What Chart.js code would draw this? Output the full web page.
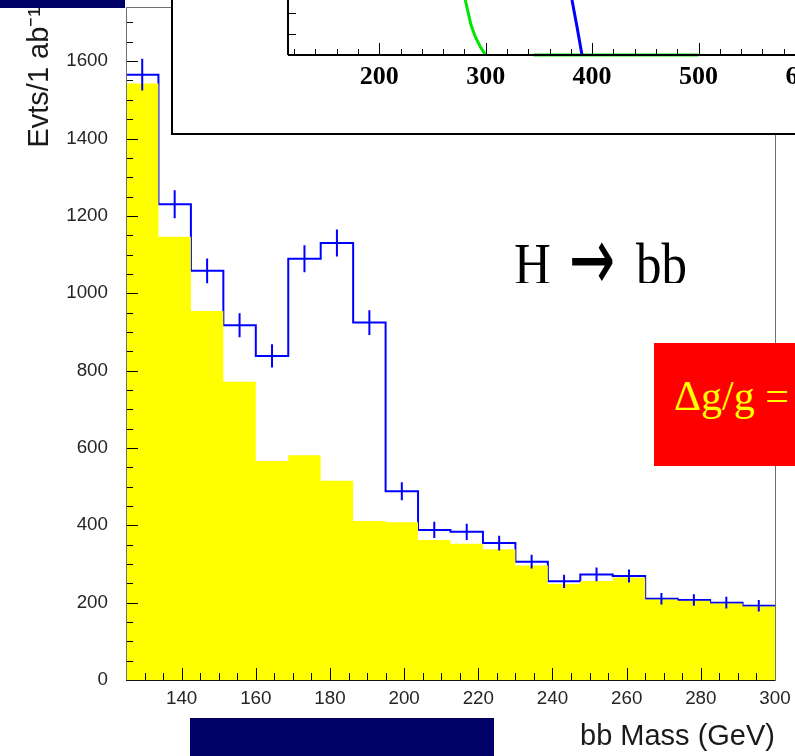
<!DOCTYPE html>
<html>
<head>
<meta charset="utf-8">
<script src="https://cdn.jsdelivr.net/npm/chart.js@4"></script>
<style>
  html, body { margin: 0; padding: 0; background: #fff; }
  body { position: relative; width: 795px; height: 756px; overflow: hidden; }
  canvas { position: absolute; }
  #main { left: 0; top: 0; }
  .navy { position: absolute; background: #000066; }
  #insetFrame { position: absolute; left: 171px; top: -20px; width: 700px; height: 155px;
    box-sizing: border-box; border: 2px solid #000; background: #fff; }
  #inset { left: 173px; top: 0; }
  #decay { position: absolute; left: 505px; top: 236px; width: 200px; height: 47px; overflow: hidden; }
  #decay span { position: absolute; top: 0; line-height: 51px; font-family: 'Liberation Serif', serif;
    font-size: 51px; color: #000; transform: scaleY(1.15); transform-origin: 0 0; white-space: nowrap; }
  #decay span.arrow { font-family: 'DejaVu Sans', sans-serif; font-size: 50px; top: -1px;
    transform: scale(1.1, 1.8); transform-origin: 50% 50%; }
  #coupling { position: absolute; left: 654px; top: 343px; width: 141px; height: 123px; background: #ff0000; overflow: hidden; }
  #coupling span { position: absolute; left: 20px; top: 32px; line-height: 42px; font-family: 'Liberation Serif', serif;
    font-size: 42px; color: #ffff00; white-space: nowrap; }
</style>
</head>
<body>
<canvas id="main" width="795" height="756"></canvas>
<div class="navy" style="left:0;top:0;width:125px;height:8px"></div>
<div id="insetFrame"></div>
<canvas id="inset" width="700" height="131"></canvas>
<div id="decay"><span style="left:9px">H</span><span class="arrow" style="left:66px">→</span><span style="left:131px">bb</span></div>
<div id="coupling"><span>Δg/g =</span></div>
<div class="navy" style="left:190px;top:718px;width:304px;height:40px"></div>

<script>
// bb mass bins (GeV)
const binEdges = [125, 133.75, 142.5, 151.25, 160, 168.75, 177.5, 186.25, 195, 203.75, 212.5,
  221.25, 230, 238.75, 247.5, 256.25, 265, 273.75, 282.5, 291.25, 300];
// background only (yellow) and signal + background (blue), events per bin
const background = [1542, 1146, 954, 771, 566, 581, 515, 411, 408, 362, 352, 338, 296, 248, 256, 265, 208, 205, 198, 190];
const signalPlusBg = [1565, 1230, 1058, 917, 838, 1089, 1130, 924, 488, 388, 383, 354, 306, 255, 273, 269, 210, 207, 200, 192];
const errors = [41, 36, 32, 31, 30, 35, 35, 32, 23, 21, 21, 19, 18, 17, 18, 17, 15, 15, 15, 15];
const xTickLabels = [140, 160, 180, 200, 220, 240, 260, 280, 300];
const yTickLabels = [0, 200, 400, 600, 800, 1000, 1200, 1400, 1600];

// inset plot (mostly hidden behind the frame edge)
const insetTickLabels = [200, 300, 400, 500, 600];
const insetGreenX = [280.8, 283.0, 286.2, 290.2, 294.9, 299.9];
const insetGreenY = [5.2, 4.25, 2.84, 1.73, 0.78, 0];
const insetBlueX = [381.1, 385.8, 390.5];
const insetBlueY = [5.2, 2.67, 0];
const insetFlatX = [345, 500];
const insetFlatY = [0, 0];

function stepPoints(values) {
  const pts = [];
  values.forEach((v, i) => {
    pts.push({x: binEdges[i], y: v}, {x: binEdges[i + 1], y: v});
  });
  return pts;
}

function errorPoints(values, errs) {
  const pts = [];
  values.forEach((v, i) => {
    const c = (binEdges[i] + binEdges[i + 1]) / 2;
    pts.push({x: c, y: v - errs[i]}, {x: c, y: v + errs[i]}, {x: c, y: null});
  });
  return pts;
}

const zip = (xs, ys) => xs.map((x, i) => ({x: x, y: ys[i]}));
const plain = v => `${v}`;

// ROOT style tick marks pointing into the frame
const tickMarks = {
  id: 'tickMarks',
  afterDatasetsDraw(chart, args, o) {
    const {ctx, chartArea: a, scales: {x, y}} = chart;
    const crisp = v => Math.round(v) + 0.5;
    ctx.save();
    ctx.lineWidth = 1;
    ctx.strokeStyle = '#000';
    ctx.beginPath();
    for (let v = Math.ceil(x.min / o.xMinor) * o.xMinor; v < x.max; v += o.xMinor) {
      if (v <= x.min) continue;
      const len = Math.abs(v / o.xMajor - Math.round(v / o.xMajor)) < 1e-6 ? o.xMajorLen : o.xMinorLen;
      const px = crisp(x.getPixelForValue(v));
      ctx.moveTo(px, a.bottom);
      ctx.lineTo(px, a.bottom - len);
    }
    for (let v = Math.ceil(y.min / o.yMinor) * o.yMinor; v < y.max; v += o.yMinor) {
      if (v <= y.min) continue;
      const len = Math.abs(v / o.yMajor - Math.round(v / o.yMajor)) < 1e-6 ? o.yMajorLen : o.yMinorLen;
      const py = crisp(y.getPixelForValue(v));
      ctx.moveTo(a.left, py);
      ctx.lineTo(a.left + len, py);
    }
    ctx.stroke();

    if (o.frame) {
      ctx.strokeStyle = o.frame;
      ctx.strokeRect(crisp(a.left), crisp(a.top), Math.round(a.right) - Math.round(a.left), Math.round(a.bottom) - Math.round(a.top));
    }
    ctx.strokeStyle = o.axisColor;
    ctx.lineWidth = o.axisWidth;
    ctx.beginPath();
    if (!o.frame) {
      ctx.moveTo(Math.round(a.left), a.top);
      ctx.lineTo(Math.round(a.left), Math.round(a.bottom));
    }
    ctx.moveTo(Math.round(a.left), o.frame ? crisp(a.bottom) : Math.round(a.bottom));
    ctx.lineTo(a.right, o.frame ? crisp(a.bottom) : Math.round(a.bottom));
    ctx.stroke();
    ctx.restore();
  }
};

const noPad = s => { s.paddingLeft = 0; s.paddingRight = 0; s.paddingTop = 0; s.paddingBottom = 0; };

new Chart(document.getElementById('main').getContext('2d'), {
  type: 'line',
  data: {
    datasets: [
      {
        label: 'signal + background',
        data: stepPoints(signalPlusBg),
        borderColor: '#0000ff',
        borderWidth: 2,
        borderJoinStyle: 'miter',
        pointRadius: 0,
        fill: false,
        order: 3,
      },
      {
        label: 'background',
        data: stepPoints(background),
        borderWidth: 0,
        borderColor: 'rgba(0,0,0,0)',
        backgroundColor: '#ffff00',
        pointRadius: 0,
        fill: 'origin',
        order: 2,
      },
      {
        label: 'errors',
        data: errorPoints(signalPlusBg, errors),
        borderColor: '#0000ff',
        borderWidth: 2,
        pointRadius: 0,
        spanGaps: false,
        fill: false,
        order: 1,
      },
    ],
  },
  options: {
    responsive: false,
    devicePixelRatio: 1,
    animation: false,
    events: [],
    layout: {padding: {left: 0, top: 7, right: 20, bottom: 0}},
    plugins: {
      legend: {display: false},
      tooltip: {enabled: false},
      tickMarks: {xMajor: 20, xMinor: 5, xMajorLen: 12, xMinorLen: 7,
        yMajor: 200, yMinor: 50, yMajorLen: 12, yMinorLen: 7,
        frame: '#707070', axisColor: '#111', axisWidth: 1},
    },
    scales: {
      x: {
        type: 'linear',
        min: 125,
        max: 300,
        afterBuildTicks: s => { s.ticks = xTickLabels.map(v => ({value: v})); },
        afterFit: s => { s.height = 76; noPad(s); },
        grid: {display: false, drawTicks: false},
        border: {display: false},
        ticks: {autoSkip: false, maxRotation: 0, padding: 8, color: '#262626', callback: plain,
          font: {family: 'Liberation Sans', size: 18.8}},
        title: {display: true, text: 'bb Mass (GeV)', align: 'end', color: '#1a1a1a',
          font: {family: 'Liberation Sans', size: 29}, padding: {top: 0, bottom: 2}},
      },
      y: {
        min: 0,
        max: 1740,
        afterBuildTicks: s => { s.ticks = yTickLabels.map(v => ({value: v})); },
        afterFit: s => { s.width = 126; noPad(s); },
        grid: {display: false, drawTicks: false},
        border: {display: false},
        ticks: {autoSkip: false, padding: 18, color: '#262626', callback: plain,
          font: {family: 'Liberation Sans', size: 18.8}},
        title: {display: true, text: 'Evts/1 ab⁻¹', align: 'end', color: '#1a1a1a',
          font: {family: 'Liberation Sans', size: 29}, padding: {top: 23, bottom: 0}},
      },
    },
  },
  plugins: [tickMarks],
});

new Chart(document.getElementById('inset').getContext('2d'), {
  type: 'line',
  data: {
    datasets: [
      {data: zip(insetGreenX, insetGreenY), borderColor: '#00e600', borderWidth: 3, pointRadius: 0, clip: false},
      {data: zip(insetBlueX, insetBlueY), borderColor: '#0000ff', borderWidth: 3, pointRadius: 0, clip: false},
      {data: zip(insetFlatX, insetFlatY), borderColor: '#00e600', borderWidth: 3, pointRadius: 0, clip: false},
    ],
  },
  options: {
    responsive: false,
    devicePixelRatio: 1,
    animation: false,
    events: [],
    layout: {padding: 0},
    plugins: {
      legend: {display: false},
      tooltip: {enabled: false},
      tickMarks: {xMajor: 100, xMinor: 20, xMajorLen: 12, xMinorLen: 6,
        yMajor: 2, yMinor: 2, yMajorLen: 8, yMinorLen: 8,
        frame: null, axisColor: '#000', axisWidth: 2},
    },
    scales: {
      x: {
        type: 'linear',
        min: 114.2,
        max: 664,
        afterBuildTicks: s => { s.ticks = insetTickLabels.map(v => ({value: v})); },
        afterFit: s => { s.height = 76; noPad(s); },
        grid: {display: false, drawTicks: false},
        border: {display: false},
        ticks: {autoSkip: false, maxRotation: 0, padding: 7, color: '#000', callback: plain,
          font: {family: 'Liberation Serif', size: 26, weight: 'bold'}},
      },
      y: {
        min: 0,
        max: 5.2,
        afterFit: s => { s.width = 115; noPad(s); },
        grid: {display: false, drawTicks: false},
        border: {display: false},
        ticks: {display: false},
      },
    },
  },
  plugins: [tickMarks],
});
</script>
</body>
</html>
